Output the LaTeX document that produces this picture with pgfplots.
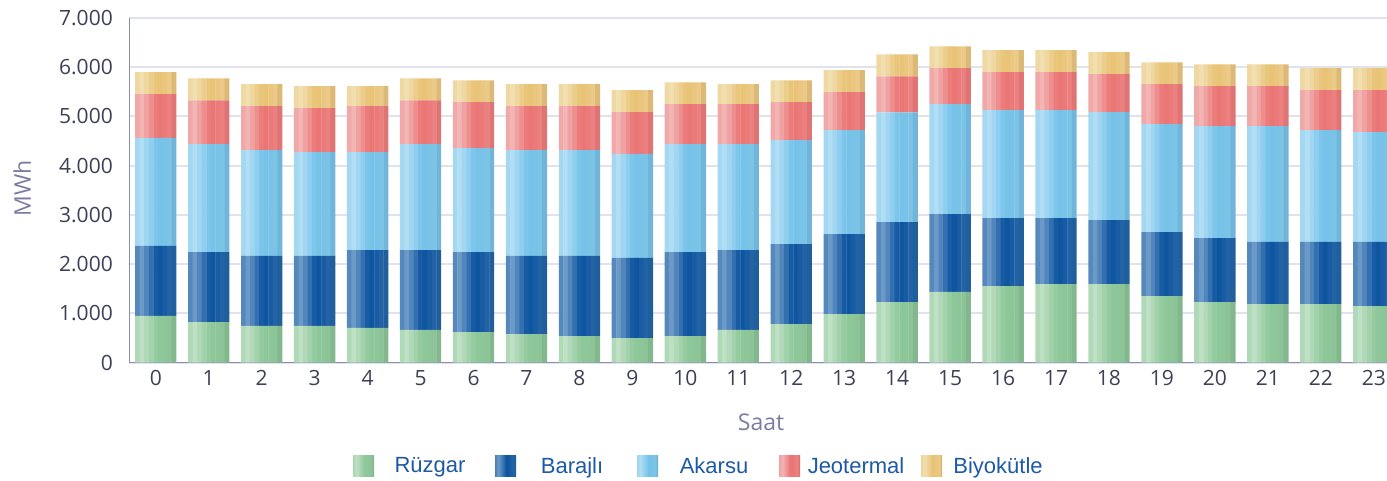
\documentclass[border=0pt]{standalone}
\usepackage{fontspec}
\setmainfont{Open Sans}
\newfontfamily\legfont{Liberation Sans}
\usepackage{pgfplots}
\usepackage{pgfplotstable}
\pgfplotsset{compat=1.18}

\definecolor{ticktxt}{HTML}{3F3F57}
\definecolor{titletxt}{HTML}{7C7CA2}
\definecolor{legtxt}{HTML}{1D5AA5}
\definecolor{gridc}{HTML}{E2E2EC}
\definecolor{axisc}{HTML}{8C8EAE}

% Rüzgar (green)
\definecolor{g0}{HTML}{A9D5B1}\definecolor{g1}{HTML}{BEE0C4}\definecolor{g2}{HTML}{8EC89A}\definecolor{g3}{HTML}{8CC497}\definecolor{g4}{HTML}{7EB189}
% Barajlı (dark blue)
\definecolor{b0}{HTML}{4A7FB6}\definecolor{b1}{HTML}{6C9AC7}\definecolor{b2}{HTML}{0A52A0}\definecolor{b3}{HTML}{2464A6}\definecolor{b4}{HTML}{1E5A96}
% Akarsu (light blue)
\definecolor{a0}{HTML}{9ED3F0}\definecolor{a1}{HTML}{B1DEF5}\definecolor{a2}{HTML}{74C2EA}\definecolor{a3}{HTML}{7CC4E6}\definecolor{a4}{HTML}{6AAED3}
% Jeotermal (red)
\definecolor{j0}{HTML}{EFA2A2}\definecolor{j1}{HTML}{F3B4B4}\definecolor{j2}{HTML}{EA7473}\definecolor{j3}{HTML}{EC8181}\definecolor{j4}{HTML}{D66D6C}
% Biyokütle (yellow)
\definecolor{y0}{HTML}{EFD49C}\definecolor{y1}{HTML}{F2DFB0}\definecolor{y2}{HTML}{E8C272}\definecolor{y3}{HTML}{EBC988}\definecolor{y4}{HTML}{D3AF6B}

% nine vertical strips per bar, colours interpolated across the bar
\newcommand\defseries[1]{%
  \colorlet{#1s0}{#11!33!#10}%
  \colorlet{#1s1}{#11}%
  \colorlet{#1s2}{#12!28!#11}%
  \colorlet{#1s3}{#12!58!#11}%
  \colorlet{#1s4}{#12!87!#11}%
  \colorlet{#1s5}{#13!20!#12}%
  \colorlet{#1s6}{#13!57!#12}%
  \colorlet{#1s7}{#13!94!#12}%
  \colorlet{#1s8}{#14!63!#13}}
\defseries{g}\defseries{b}\defseries{a}\defseries{j}\defseries{y}

\pgfdeclarehorizontalshading{shG}{100bp}{color(0bp)=(g0); color(25bp)=(g0); color(33bp)=(g1); color(52bp)=(g2); color(68bp)=(g3); color(75bp)=(g4); color(100bp)=(g4)}
\pgfdeclarehorizontalshading{shB}{100bp}{color(0bp)=(b0); color(25bp)=(b0); color(33bp)=(b1); color(52bp)=(b2); color(68bp)=(b3); color(75bp)=(b4); color(100bp)=(b4)}
\pgfdeclarehorizontalshading{shA}{100bp}{color(0bp)=(a0); color(25bp)=(a0); color(33bp)=(a1); color(52bp)=(a2); color(68bp)=(a3); color(75bp)=(a4); color(100bp)=(a4)}
\pgfdeclarehorizontalshading{shJ}{100bp}{color(0bp)=(j0); color(25bp)=(j0); color(33bp)=(j1); color(52bp)=(j2); color(68bp)=(j3); color(75bp)=(j4); color(100bp)=(j4)}
\pgfdeclarehorizontalshading{shY}{100bp}{color(0bp)=(y0); color(25bp)=(y0); color(33bp)=(y1); color(52bp)=(y2); color(68bp)=(y3); color(75bp)=(y4); color(100bp)=(y4)}

\pgfplotstableread{
h  R     B     A     J    Bi
0  950   1420  2190  890  445
1  825   1420  2190  890  445
2  745   1420  2150  890  445
3  745   1420  2110  890  445
4  705   1580  1990  930  405
5  665   1620  2150  890  445
6  620   1625  2110  930  445
7  580   1585  2150  890  445
8  540   1625  2150  890  445
9  500   1625  2110  850  445
10 540   1705  2190  810  445
11 665   1620  2150  810  405
12 785   1620  2110  770  445
13 985   1625  2110  770  445
14 1230  1620  2230  730  445
15 1435  1580  2230  730  445
16 1555  1380  2190  770  445
17 1595  1340  2190  770  445
18 1595  1300  2190  770  445
19 1350  1300  2190  810  445
20 1230  1300  2270  810  445
21 1190  1260  2350  810  445
22 1190  1260  2270  810  445
23 1150  1300  2230  850  445
}\datatable

\pgfplotsset{
  geom/.style={
    at={(129.3pt,118.3pt)}, anchor=south west,
    scale only axis, width=1257.7pt, height=345pt,
    xmin=-0.5, xmax=23.25, ymin=0, ymax=7000,
    enlargelimits=false},
}

% one strip (index #1, shift #2) of every bar
\newcommand\strip[2]{%
  \begin{axis}[geom, hide axis, ybar stacked, bar width=4.9pt, bar shift=#2]
    \addplot[draw=none, fill=gs#1] table[x=h, y=R]  {\datatable};
    \addplot[draw=none, fill=bs#1] table[x=h, y=B]  {\datatable};
    \addplot[draw=none, fill=as#1] table[x=h, y=A]  {\datatable};
    \addplot[draw=none, fill=js#1] table[x=h, y=J]  {\datatable};
    \addplot[draw=none, fill=ys#1] table[x=h, y=Bi] {\datatable};
  \end{axis}}

\begin{document}
\begin{tikzpicture}
\path[use as bounding box] (0pt,0pt) rectangle (1387pt,481pt);
\begin{axis}[
  geom,
  axis x line*=bottom, axis y line*=left,
  axis line style={-, draw=axisc, line width=1.5pt},
  major tick length=0pt,
  xtick={0,...,23},
  xticklabels={0,1,2,3,4,5,6,7,8,9,10,11,12,13,14,15,16,17,18,19,20,21,22,23},
  ytick={0,1000,2000,3000,4000,5000,6000,7000},
  yticklabels={0,1.000,2.000,3.000,4.000,5.000,6.000,7.000},
  tick label style={font=\fontsize{21}{25}\selectfont, text=ticktxt},
  yticklabel shift=13pt,
  xticklabel shift=4pt,
  ymajorgrids, grid style={draw=gridc, line width=2pt},
  xlabel={Saat}, ylabel={MWh},
  label style={font=\fontsize{23}{27}\selectfont, text=titletxt},
  xlabel style={at={(axis description cs:0.5023,-0.172)}, anchor=center},
  ylabel style={at={(axis description cs:-0.0853,0.506)}, anchor=center},
  legend columns=5,
  legend style={at={(axis description cs:0.1779,-0.2994)}, anchor=west,
    draw=none, fill=none, inner sep=0pt, outer sep=0pt,
    column sep=0pt,
    /tikz/every even column/.append style={column sep=9pt},
    cells={anchor=west, text depth=0pt, inner sep=0pt},
    font=\legfont\fontsize{22}{26}\selectfont, text=legtxt},
  legend image code/.code={\path[#1, draw=none] (0pt,-10.5pt) rectangle (21pt,10.5pt);},
]
\addlegendimage{shade, shading=shG}
\addlegendentry{\makebox[108pt][c]{Rüzgar}}
\addlegendimage{shade, shading=shB}
\addlegendentry{\makebox[108pt][c]{Barajlı}}
\addlegendimage{shade, shading=shA}
\addlegendentry{\makebox[108pt][c]{Akarsu}}
\addlegendimage{shade, shading=shJ}
\addlegendentry{\makebox[108pt][c]{Jeotermal}}
\addlegendimage{shade, shading=shY}
\addlegendentry{\makebox[108pt][c]{Biyokütle}}
\end{axis}
\strip{0}{-18.222pt}
\strip{1}{-13.667pt}
\strip{2}{-9.111pt}
\strip{3}{-4.556pt}
\strip{4}{0pt}
\strip{5}{4.556pt}
\strip{6}{9.111pt}
\strip{7}{13.667pt}
\strip{8}{18.222pt}
\end{tikzpicture}
\end{document}
